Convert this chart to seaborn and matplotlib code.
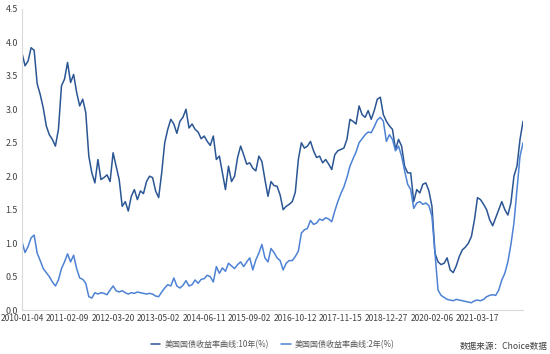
import numpy as np
import pandas as pd
import matplotlib
matplotlib.use("Agg")
import matplotlib.pyplot as plt
import seaborn as sns

tick_labels = ["2010-01-04", "2011-02-09", "2012-03-20", "2013-05-02", "2014-06-11",
               "2015-09-02", "2016-10-12", "2017-11-15", "2018-12-27", "2020-02-06",
               "2021-03-17"]

y10 = [3.84, 3.65, 3.72, 3.92, 3.88, 3.38, 3.22, 3.02, 2.75, 2.62,
       2.55, 2.45, 2.70, 3.35, 3.45, 3.70, 3.40, 3.52, 3.25, 3.05,
       3.15, 2.95, 2.30, 2.05, 1.90, 2.25, 1.95, 1.98, 2.02, 1.92,
       2.35, 2.15, 1.95, 1.55, 1.62, 1.48, 1.70, 1.80, 1.65, 1.78,
       1.74, 1.92, 2.00, 1.98, 1.78, 1.68, 2.05, 2.50, 2.70, 2.85,
       2.78, 2.64, 2.82, 2.88, 3.00, 2.72, 2.78, 2.70, 2.66, 2.56,
       2.60, 2.52, 2.46, 2.60, 2.25, 2.30, 2.05, 1.80, 2.15, 1.92,
       2.00, 2.28, 2.45, 2.32, 2.18, 2.20, 2.12, 2.08, 2.30, 2.22,
       1.95, 1.70, 1.92, 1.86, 1.85, 1.72, 1.50, 1.55, 1.58, 1.62,
       1.76, 2.25, 2.50, 2.42, 2.45, 2.52, 2.38, 2.28, 2.30, 2.20,
       2.25, 2.18, 2.10, 2.32, 2.38, 2.40, 2.42, 2.55, 2.85, 2.82,
       2.78, 3.05, 2.92, 2.88, 2.98, 2.85, 2.98, 3.15, 3.18, 2.92,
       2.82, 2.75, 2.70, 2.40, 2.55, 2.45, 2.15, 2.05, 2.05, 1.62,
       1.80, 1.75, 1.88, 1.90, 1.78, 1.55, 0.85, 0.72, 0.68, 0.70,
       0.78, 0.60, 0.56, 0.66, 0.80, 0.90, 0.94, 1.00, 1.10, 1.35,
       1.68, 1.65, 1.58, 1.50, 1.35, 1.26, 1.38, 1.50, 1.62, 1.50,
       1.42, 1.60, 2.00, 2.15, 2.55, 2.82]

y2 = [1.02, 0.86, 0.95, 1.08, 1.12, 0.85, 0.74, 0.62, 0.56, 0.50,
      0.42, 0.36, 0.45, 0.62, 0.72, 0.84, 0.72, 0.82, 0.62, 0.48,
      0.46, 0.40, 0.20, 0.18, 0.26, 0.24, 0.26, 0.25, 0.23, 0.30,
      0.36, 0.29, 0.27, 0.29, 0.26, 0.24, 0.26, 0.25, 0.27, 0.26,
      0.25, 0.24, 0.25, 0.24, 0.21, 0.20, 0.27, 0.33, 0.38, 0.36,
      0.48, 0.36, 0.33, 0.37, 0.44, 0.36, 0.38, 0.45, 0.40, 0.46,
      0.47, 0.52, 0.50, 0.42, 0.65, 0.55, 0.63, 0.58, 0.70, 0.66,
      0.62, 0.68, 0.72, 0.65, 0.72, 0.78, 0.60, 0.75, 0.85, 0.98,
      0.78, 0.72, 0.92, 0.86, 0.78, 0.74, 0.60, 0.70, 0.74, 0.74,
      0.80, 0.88, 1.15, 1.20, 1.22, 1.34, 1.28, 1.30, 1.36, 1.34,
      1.38, 1.36, 1.32, 1.48, 1.62, 1.74, 1.84, 1.98, 2.15, 2.26,
      2.36, 2.50, 2.56, 2.62, 2.66, 2.65, 2.74, 2.84, 2.88, 2.82,
      2.52, 2.62, 2.55, 2.38, 2.45, 2.30, 2.08, 1.88, 1.80, 1.52,
      1.60, 1.62, 1.58, 1.60, 1.56, 1.40, 0.85, 0.30, 0.22, 0.19,
      0.16, 0.15, 0.14, 0.16, 0.15, 0.14, 0.13, 0.12, 0.11, 0.14,
      0.15, 0.14, 0.16, 0.20, 0.22, 0.23, 0.22, 0.30, 0.45, 0.55,
      0.72, 0.98, 1.30, 1.80, 2.30, 2.50]

name10 = "美国国债收益率曲线:10年(%)"
name2 = "美国国债收益率曲线:2年(%)"

n = len(y10)
df = pd.DataFrame({
    "idx": list(range(n)) + list(range(len(y2))),
    "value": y10 + y2,
    "series": [name10] * n + [name2] * len(y2),
})

sns.set_theme(style="white")
plt.rcParams["font.family"] = ["Noto Sans CJK SC", "DejaVu Sans"]

fig = plt.figure(figsize=(5.5, 3.54), dpi=100)
ax = fig.add_axes([0.040, 0.124, 0.911, 0.851])

sns.lineplot(data=df, x="idx", y="value", hue="series",
             palette={name10: "#2B5694", name2: "#4D82D4"},
             linewidth=1.1, ax=ax, legend=True)

ax.set_xlim(0, n - 1)
ax.set_ylim(0, 4.5)
ax.set_yticks(np.arange(0, 4.51, 0.5))
ax.set_yticklabels([f"{v:.1f}" for v in np.arange(0, 4.51, 0.5)], fontsize=6.4, color="#404040")
ax.set_xticks([i * 15 for i in range(len(tick_labels))])
ax.set_xticklabels(tick_labels, fontsize=6.1, color="#404040")
ax.tick_params(axis="both", length=0, pad=3)
ax.set_xlabel("")
ax.set_ylabel("")

for s in ["top", "right"]:
    ax.spines[s].set_visible(False)
ax.spines["left"].set_color("#D9D9D9")
ax.spines["bottom"].set_color("#D9D9D9")
ax.spines["left"].set_linewidth(0.8)
ax.spines["bottom"].set_linewidth(0.8)

leg = ax.legend(loc="upper center", bbox_to_anchor=(0.5, -0.075), ncol=2, frameon=False,
                fontsize=5.8, handlelength=1.2, columnspacing=1.5, handletextpad=0.5)
for t in leg.get_texts():
    t.set_color("#595959")

fig.text(0.996, 0.008, "数据来源：Choice数据", ha="right", va="bottom", fontsize=6.2, color="#404040")

fig.savefig("out.png", dpi=100)
